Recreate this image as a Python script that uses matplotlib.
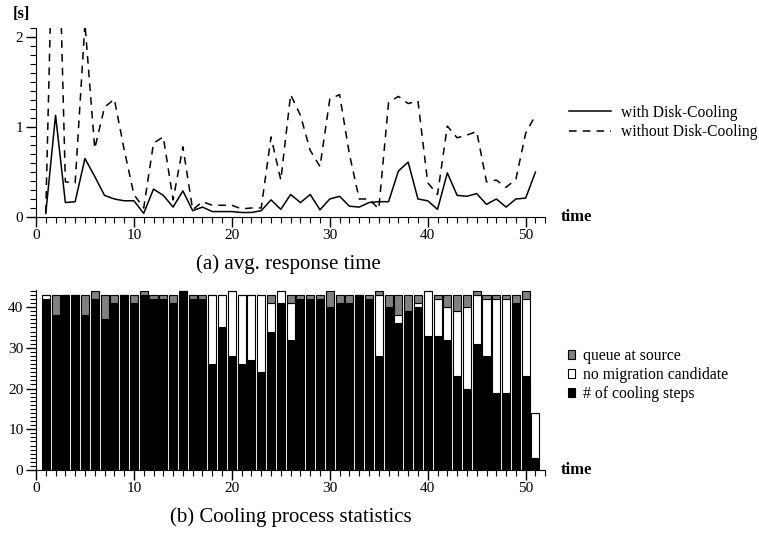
import matplotlib
matplotlib.use("Agg")
import matplotlib.pyplot as plt
import numpy as np
from matplotlib.ticker import MultipleLocator
from matplotlib.patches import Patch

plt.rcParams['font.family'] = ['Liberation Serif', 'DejaVu Serif']

# time steps
time = list(range(1, 52))

# avg. response time [s]
with_cooling = [0.04, 1.13, 0.16, 0.17, 0.65, 0.45, 0.24, 0.20, 0.18, 0.18,
                0.04, 0.31, 0.24, 0.11, 0.29, 0.07, 0.11, 0.06, 0.06, 0.06,
                0.05, 0.05, 0.07, 0.19, 0.085, 0.25, 0.16, 0.25, 0.08, 0.20,
                0.23, 0.12, 0.11, 0.16, 0.17, 0.17, 0.51, 0.61, 0.20, 0.18,
                0.085, 0.49, 0.24, 0.23, 0.26, 0.14, 0.20, 0.11, 0.20, 0.21,
                0.50]
without_cooling = [0.05, 4.6, 0.39, 0.38, 2.15, 0.76, 1.22, 1.31, 0.75, 0.25,
                   0.10, 0.82, 0.89, 0.19, 0.78, 0.08, 0.17, 0.13, 0.13, 0.13,
                   0.09, 0.10, 0.10, 0.89, 0.41, 1.36, 1.13, 0.74, 0.56, 1.31,
                   1.36, 0.70, 0.20, 0.20, 0.09, 1.27, 1.34, 1.26, 1.29, 0.38,
                   0.25, 1.01, 0.88, 0.91, 0.95, 0.39, 0.41, 0.33, 0.42, 0.93,
                   1.13]

# cooling process statistics (stack: cooling steps, no candidate, queue)
cooling_steps = [42, 38, 43, 43, 38, 42, 37, 41, 43, 41,
                 43, 42, 42, 41, 44, 42, 42, 26, 35, 28,
                 26, 27, 24, 34, 41, 32, 42, 42, 42, 40,
                 41, 41, 43, 42, 28, 40, 36, 39, 40, 33,
                 33, 32, 23, 20, 31, 28, 19, 19, 41, 23,
                 3]
no_candidate = [1, 0, 0, 0, 0, 0, 0, 0, 0, 0,
                0, 0, 0, 0, 0, 0, 0, 17, 8, 16,
                17, 16, 19, 7, 3, 9, 0, 0, 0, 0,
                0, 0, 0, 0, 15, 0, 2, 0, 1, 11,
                9, 8, 16, 20, 12, 14, 23, 23, 0, 19,
                11]
queue_source = [0, 5, 0, 0, 5, 2, 6, 2, 0, 2,
                1, 1, 1, 2, 0, 1, 1, 0, 0, 0,
                0, 0, 0, 2, 0, 2, 1, 1, 1, 4,
                2, 2, 0, 1, 1, 3, 5, 4, 2, 0,
                1, 3, 4, 3, 1, 1, 1, 1, 2, 2,
                0]

fig = plt.figure(figsize=(7.59, 5.33), dpi=100)

# ---- (a) response time ----
ax1 = fig.add_axes([0.0474, 0.5929, 0.671, 0.3546])
ax1.plot(time, with_cooling, 'k-', lw=1.1, label='with Disk-Cooling')
ax1.plot(time, without_cooling, 'k--', lw=1.1, dashes=(5, 4),
         label='without Disk-Cooling')
ax1.set_xlim(0, 52)
ax1.set_ylim(0, 2.1)
ax1.yaxis.set_major_locator(MultipleLocator(1))
ax1.yaxis.set_minor_locator(MultipleLocator(0.1))
ax1.legend(loc='center left', bbox_to_anchor=(1.02, 0.5), frameon=False,
           fontsize=11.2, handlelength=2.7, handletextpad=0.6,
           labelspacing=0.2)
ax1.text(-0.028, 1.03, '[s]', transform=ax1.transAxes, fontsize=12,
         fontweight='bold', ha='center', va='bottom')

# ---- (b) cooling statistics ----
ax2 = fig.add_axes([0.0474, 0.1182, 0.671, 0.3378])
steps = np.array(cooling_steps)
nocand = np.array(no_candidate)
queue = np.array(queue_source)
ax2.bar(time, steps, width=0.82, color='black', edgecolor='black', lw=0.8,
        label='# of cooling steps')
ax2.bar(time, nocand, width=0.82, bottom=steps, color='white',
        edgecolor='black', lw=0.8, label='no migration candidate')
ax2.bar(time, queue, width=0.82, bottom=steps + nocand, color='#808080',
        edgecolor='black', lw=0.8, label='queue at source')
ax2.set_xlim(0, 52)
ax2.set_ylim(0, 44.2)
ax2.yaxis.set_major_locator(MultipleLocator(10))
ax2.yaxis.set_minor_locator(MultipleLocator(1))
handles = [Patch(facecolor='#808080', edgecolor='black', lw=0.8),
           Patch(facecolor='white', edgecolor='black', lw=0.8),
           Patch(facecolor='black', edgecolor='black', lw=0.8)]
ax2.legend(handles, ['queue at source', 'no migration candidate',
                     '# of cooling steps'],
           loc='center left', bbox_to_anchor=(1.016, 0.528), frameon=False,
           fontsize=11.3, handlelength=0.5, handleheight=0.5,
           handletextpad=0.5, labelspacing=0.2)

for ax in (ax1, ax2):
    ax.spines['top'].set_visible(False)
    ax.spines['right'].set_visible(False)
    ax.xaxis.set_major_locator(MultipleLocator(10))
    ax.xaxis.set_minor_locator(MultipleLocator(1))
    ax.tick_params(which='major', length=7, width=1, labelsize=11,
                   direction='out', pad=2)
    ax.tick_params(which='minor', length=4, width=0.8, direction='out')
    ax.text(1.03, 0.0, 'time', transform=ax.transAxes, fontsize=12,
            fontweight='bold', ha='left', va='center')

fig.text(0.38, 0.505, '(a) avg. response time', fontsize=15,
         ha='center', va='center')
fig.text(0.383, 0.030, '(b) Cooling process statistics', fontsize=15,
         ha='center', va='center')

fig.savefig('out.png', dpi=100)
